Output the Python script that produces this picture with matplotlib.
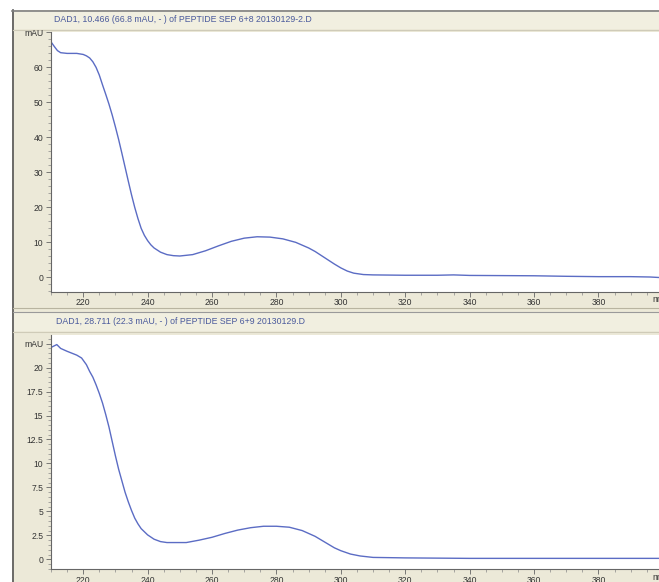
import matplotlib.pyplot as plt
from matplotlib.patches import Rectangle
from matplotlib.lines import Line2D
from matplotlib.ticker import MultipleLocator, FuncFormatter

# spectrum 1 (DAD1, 10.466 min)
wl1 = [210, 211, 212, 213, 215, 218, 220, 221, 222, 223, 224, 225, 226, 227, 228, 229, 230,
       231, 232, 233, 234, 235, 236, 237, 238, 239, 240, 241, 242, 244, 246, 248, 250, 254,
       258, 262, 266, 270, 274, 278, 282, 286, 290, 292, 294, 296, 298, 300, 302, 304, 307,
       310, 320, 330, 335, 340, 350, 360, 370, 380, 390, 396, 400]
abs1 = [67.3, 66.0, 64.8, 64.2, 64.0, 64.0, 63.7, 63.3, 62.7, 61.6, 60.0, 57.8, 55.0, 52.3,
        49.5, 46.4, 43.0, 39.4, 35.5, 31.5, 27.5, 23.6, 20.0, 16.8, 14.0, 12.0, 10.5, 9.3, 8.4,
        7.2, 6.5, 6.2, 6.1, 6.5, 7.6, 9.0, 10.3, 11.2, 11.6, 11.5, 11.0, 10.0, 8.4, 7.4, 6.2,
        5.0, 3.8, 2.7, 1.8, 1.2, 0.8, 0.7, 0.6, 0.6, 0.7, 0.55, 0.5, 0.45, 0.3, 0.2, 0.2, 0.1, -0.1]

# spectrum 2 (DAD1, 28.711 min)
wl2 = [210, 211.8, 213, 215, 218, 219.5, 221, 222, 223, 224, 225, 226, 227, 228, 229, 230,
       231, 232, 233, 234, 235, 236, 237, 238, 240, 242, 244, 246, 250, 252, 256, 260, 264,
       268, 272, 276, 280, 284, 288, 292, 294, 296, 298, 300, 303, 306, 310, 320, 340, 360,
       380, 400]
abs2 = [22.1, 22.4, 22.0, 21.7, 21.3, 21.0, 20.3, 19.6, 19.0, 18.2, 17.3, 16.3, 15.1, 13.8,
        12.3, 10.8, 9.4, 8.2, 7.0, 6.0, 5.1, 4.3, 3.7, 3.2, 2.55, 2.1, 1.85, 1.75, 1.75, 1.75,
        2.0, 2.3, 2.7, 3.05, 3.3, 3.45, 3.45, 3.35, 3.0, 2.4, 2.0, 1.6, 1.2, 0.9, 0.55, 0.35,
        0.2, 0.15, 0.1, 0.1, 0.1, 0.1]

title1 = "DAD1, 10.466 (66.8 mAU, - ) of PEPTIDE SEP 6+8 20130129-2.D"
title2 = "DAD1, 28.711 (22.3 mAU, - ) of PEPTIDE SEP 6+9 20130129.D"

W, H = 659, 582
BEIGE = "#ece9d8"
BAR = "#f1efe0"
LINE = "#5b6cc4"
TXT = "#333333"
plt.rcParams['font.family'] = ['Liberation Sans', 'DejaVu Sans']

fig = plt.figure(figsize=(W / 100, H / 100), dpi=100)
fig.patch.set_facecolor("white")


def box(x0, y0, x1, y1, fc):
    # pixel coords from top-left
    fig.patches.append(Rectangle((x0 / W, 1 - y1 / H), (x1 - x0) / W, (y1 - y0) / H,
                                 transform=fig.transFigure, facecolor=fc, edgecolor="none",
                                 zorder=-5))


def hline(y, x0, x1, color, lw=1):
    fig.lines.append(Line2D([x0 / W, x1 / W], [1 - y / H, 1 - y / H],
                            transform=fig.transFigure, color=color, lw=lw, zorder=-1))


# window frame
box(12, 10, W + 5, H + 5, BEIGE)
box(13, 11, W + 5, 29, BAR)
box(13, 313, W + 5, 331, BAR)
fig.lines.append(Line2D([12.5 / W, 12.5 / W], [0, 1 - 10 / H], transform=fig.transFigure,
                        color="#555555", lw=1.2, zorder=-1))
hline(10.5, 12, W, "#808080", 1.2)
hline(29.5, 13, W, "#cfcbb8", 0.8)
hline(307.5, 13, W, "#b8b4a0", 0.8)
hline(311.5, 13, W, "#9a9a9a", 0.8)
hline(331.5, 13, W, "#cfcbb8", 0.8)

fig.text(183 / W, 1 - 19.5 / H, title1, ha="center", va="center", fontsize=6.3, color="#4a5a9c")
fig.text(181 / W, 1 - 322 / H, title2, ha="center", va="center", fontsize=6.3, color="#4a5a9c")


def panel(rect_px, wl, ab, ylim, major, minor, top_tick):
    x0, y0, x1, y1 = rect_px
    ax = fig.add_axes([x0 / W, 1 - y1 / H, (x1 - x0) / W, (y1 - y0) / H])
    ax.set_facecolor("white")
    ax.plot(wl, ab, color=LINE, lw=1.0)
    ax.set_xlim(210, 398.8)
    ax.set_ylim(*ylim)
    for s in ("top", "right"):
        ax.spines[s].set_visible(False)
    for s in ("left", "bottom"):
        ax.spines[s].set_color("#666666")
        ax.spines[s].set_linewidth(0.8)
    ax.xaxis.set_major_locator(MultipleLocator(20))
    ax.xaxis.set_minor_locator(MultipleLocator(5))
    ax.yaxis.set_major_locator(MultipleLocator(major))
    ax.yaxis.set_minor_locator(MultipleLocator(minor))
    # the top major label is replaced by the unit, as in ChemStation
    ax.yaxis.set_major_formatter(FuncFormatter(
        lambda v, p: "mAU" if abs(v - top_tick) < 1e-6 else f"{v:g}"))
    ax.tick_params(which="major", length=3.5, width=0.6, color="#666666",
                   labelsize=6.2, labelcolor=TXT, pad=2)
    ax.tick_params(axis="x", which="major", pad=1)
    ax.tick_params(which="minor", length=2, width=0.5, color="#888888")
    ax.text(652 / W, 1 - (y1 + 8) / H, "nm", transform=fig.transFigure, ha="left",
            va="center", fontsize=6.2, color=TXT)
    return ax


ax1 = panel((51, 31.7, W, 291.7), wl1, abs1, (-4.1, 70.2), 10, 2, 70)
ax2 = panel((51, 335, W, 569.3), wl2, abs2, (-1.04, 23.4), 2.5, 0.5, 22.5)

fig.savefig("out.png", dpi=100)
